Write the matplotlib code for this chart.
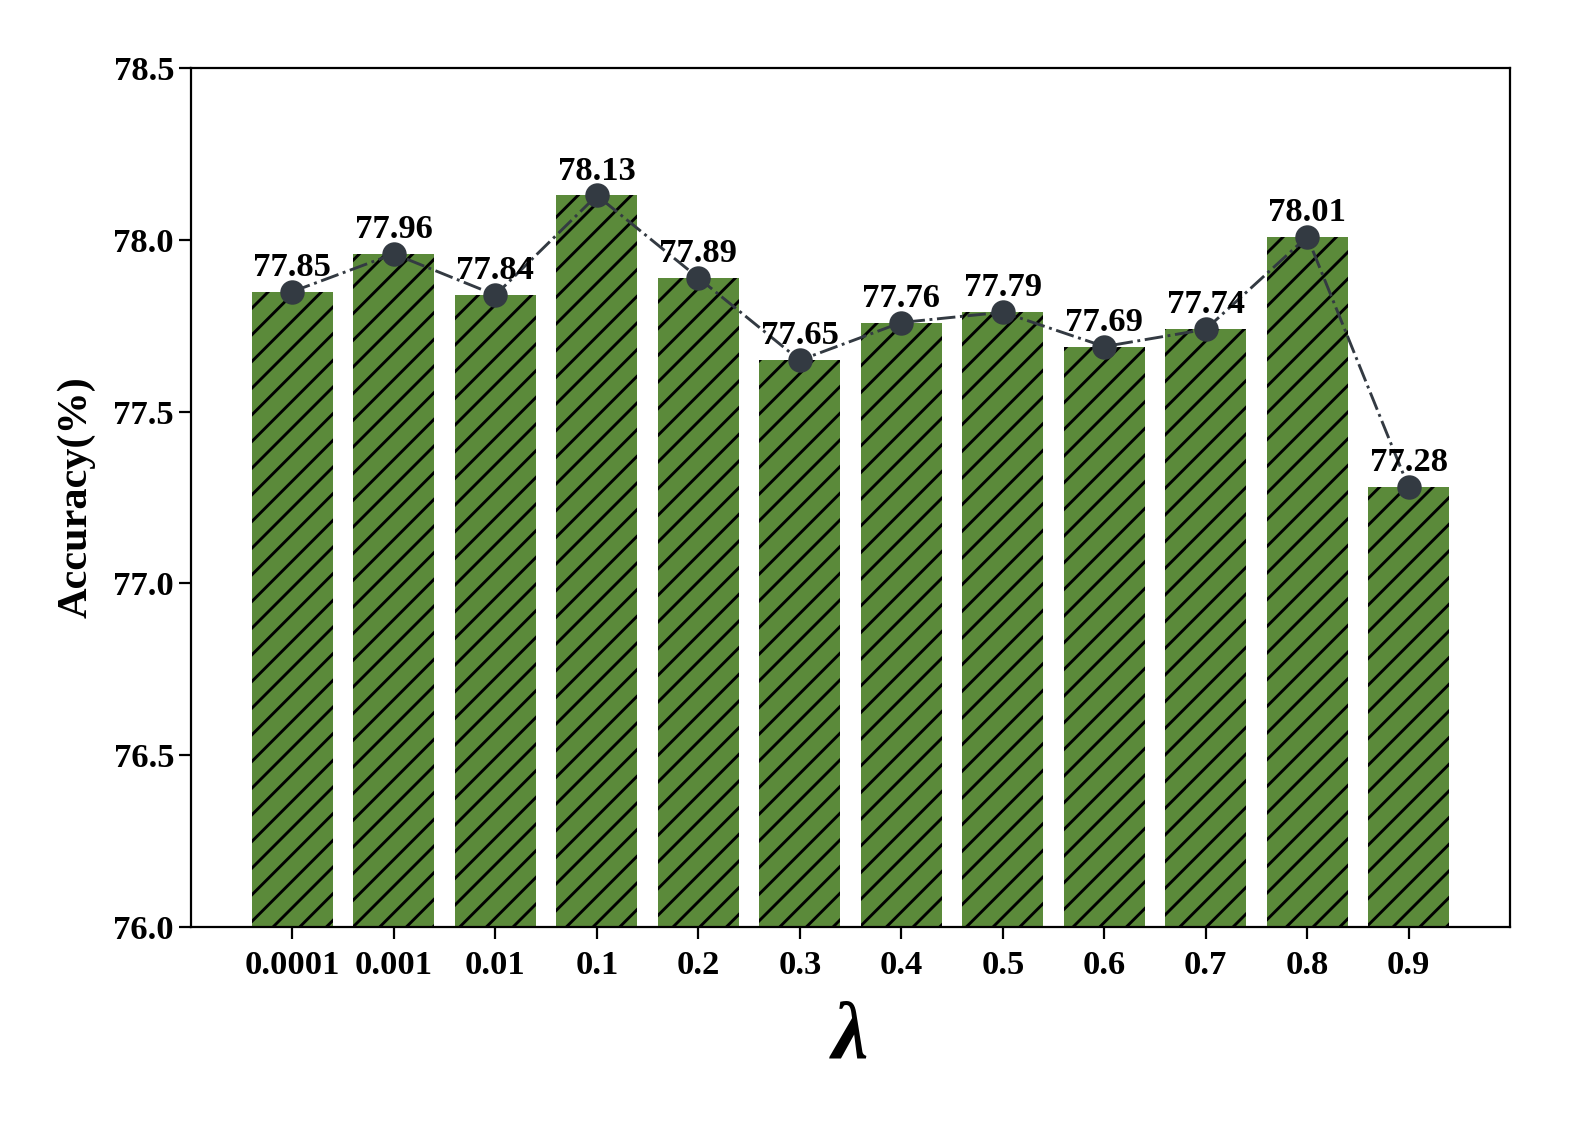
import numpy as np
import matplotlib
matplotlib.use("Agg")
import matplotlib.pyplot as plt

# dados
lambdas = ["0.0001", "0.001", "0.01", "0.1", "0.2", "0.3", "0.4", "0.5", "0.6", "0.7", "0.8", "0.9"]
acc = [77.85, 77.96, 77.84, 78.13, 77.89, 77.65, 77.76, 77.79, 77.69, 77.74, 78.01, 77.28]

plt.rcParams['font.family'] = ['Liberation Serif', 'DejaVu Serif']
plt.rcParams['font.weight'] = 'bold'
plt.rcParams['hatch.linewidth'] = 1.3
plt.rcParams['hatch.color'] = 'black'

DPI = 160
fig = plt.figure(figsize=(1578 / DPI, 1122 / DPI), dpi=DPI)
ax = fig.add_axes([0.121, 0.174, 0.836, 0.765])

xs = np.arange(len(lambdas))
ax.bar(xs, acc, width=0.8, color="#5b8a3a", hatch="//", edgecolor="black", linewidth=0, zorder=2)
ax.plot(xs, acc, linestyle="-.", color="#333a42", linewidth=1.3, marker="o",
        markersize=10, zorder=3)

for x, y in zip(xs, acc):
    ax.annotate(f"{y:.2f}", xy=(x, y), xytext=(0, 4), textcoords="offset points",
                ha="center", va="bottom", fontsize=15.5, fontweight="bold", zorder=4)

ax.set_xlim(-1, 12)
ax.set_ylim(76.0, 78.5)
ax.set_yticks(np.arange(76.0, 78.51, 0.5))
ax.set_xticks(xs)
ax.set_xticklabels(lambdas)
ax.tick_params(axis="both", labelsize=15.5, length=5.6, width=1)
ax.tick_params(axis="x", pad=5)
ax.tick_params(axis="y", pad=2)
for lab in ax.get_xticklabels() + ax.get_yticklabels():
    lab.set_fontweight("bold")
for s in ax.spines.values():
    s.set_linewidth(1)

ax.set_ylabel("Accuracy(%)", fontsize=19, fontweight="bold", labelpad=8)
ax.set_xlabel("λ", fontsize=37, fontweight="bold", fontstyle="italic", labelpad=9)

fig.savefig("out.png", dpi=DPI)
